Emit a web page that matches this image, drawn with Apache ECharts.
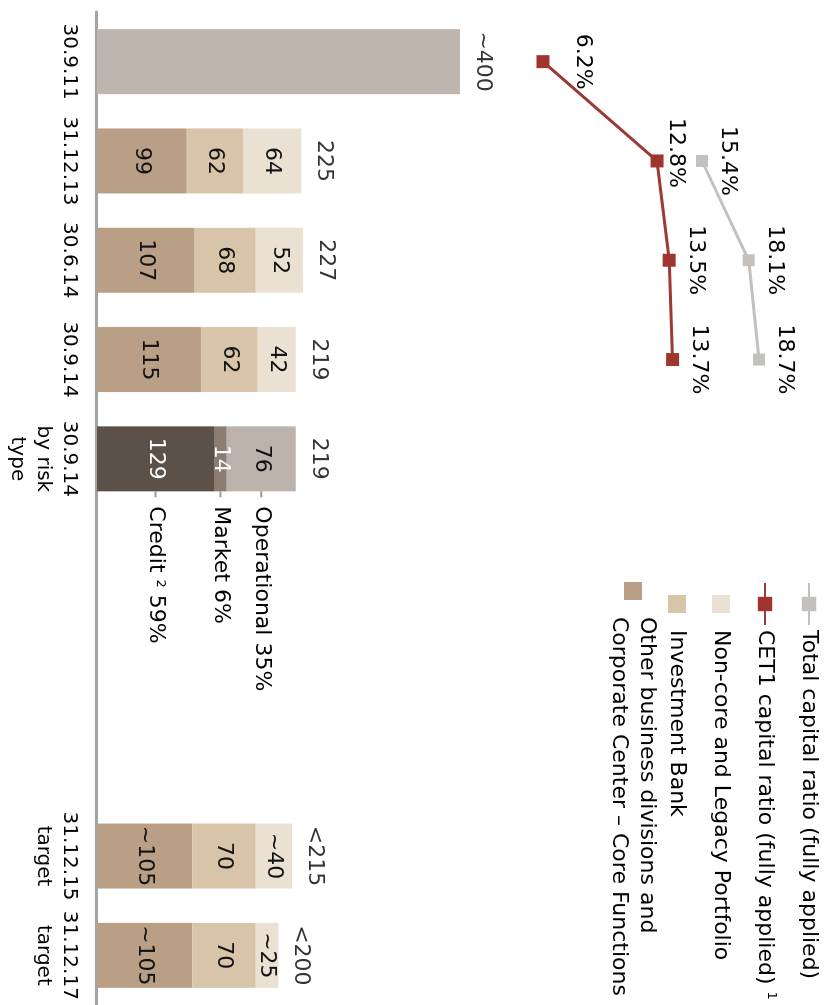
<!DOCTYPE html>
<html>
<head>
<meta charset="utf-8">
<script src="https://cdn.jsdelivr.net/npm/echarts@6/dist/echarts.min.js"></script>
<style>
  html, body { margin: 0; padding: 0; background: #fff; width: 833px; height: 1005px; overflow: hidden; }
  /* the chart is laid out landscape and turned a quarter clockwise onto the page */
  #chart {
    position: absolute; left: 0; top: 0;
    width: 1005px; height: 833px;
    transform-origin: 0 0;
    transform: translate(833px, 0) rotate(90deg);
  }
</style>
</head>
<body>
<div id="chart"></div>
<script>
// Risk-weighted assets (CHF bn) and capital ratios (%)
const categories = ['30.9.11', '31.12.13', '30.6.14', '30.9.14', '30.9.14\nby risk\ntype', '', '', '', '31.12.15\ntarget', '31.12.17\ntarget'];

const groupRwa        = [400, null, null, null, null, null, null, null, null, null];
const coreFunctions   = [null, 99, 107, 115, null, null, null, null, 105, 105];
const coreLabels      = ['', '99', '107', '115', '', '', '', '', '~105', '~105'];
const investmentBank  = [null, 62, 68, 62, null, null, null, null, 70, 70];
const ibLabels        = ['', '62', '68', '62', '', '', '', '', '70', '70'];
const nonCoreLegacy   = [null, 64, 52, 42, null, null, null, null, 40, 25];
const nonCoreLabels   = ['', '64', '52', '42', '', '', '', '', '~40', '~25'];

const creditRisk      = [null, null, null, null, 129, null, null, null, null, null];
const marketRisk      = [null, null, null, null, 14, null, null, null, null, null];
const operationalRisk = [null, null, null, null, 76, null, null, null, null, null];
const riskNames  = ['Credit', 'Market', 'Operational'];
const riskShares = ['59%', '6%', '35%'];

const totals      = [400, 225, 227, 219, 219, null, null, null, 215, 200];
const totalLabels = ['~400', '225', '227', '219', '219', '', '', '', '<215', '<200'];

const cet1Ratio         = [6.2, 12.8, 13.5, 13.7, null, null, null, null, null, null];
const totalCapitalRatio = [null, 15.4, 18.1, 18.7, null, null, null, null, null, null];

const FONT = 'DejaVu Sans';
const NAME_TOTAL = 'Total capital ratio (fully applied)';
const NAME_CET1 = 'CET1 capital ratio (fully applied)';
const NAME_NONCORE = 'Non-core and Legacy Portfolio';
const NAME_IB = 'Investment Bank';
const NAME_CORE = 'Other business divisions and Corporate Center – Core Functions';

const chart = echarts.init(document.getElementById('chart'), null, { renderer: 'canvas' });

function stackedBar(name, data, color, labels, labelColor) {
  return {
    name, type: 'bar', stack: 'rwa', data,
    barWidth: 65, barGap: '-100%',
    itemStyle: { color },
    label: {
      show: !!labels, position: 'inside',
      fontFamily: FONT, fontSize: 22, color: labelColor || '#111',
      formatter: p => labels ? labels[p.dataIndex] : ''
    }
  };
}

// risk-type call-outs to the side of the last reported bar
const riskData = [creditRisk, marketRisk, operationalRisk];
const riskNotes = riskData.map((d, i) => ({
  name: 'note-' + riskNames[i], type: 'bar', stack: 'note', data: d,
  barWidth: 65, barGap: '-100%', silent: true,
  itemStyle: { color: 'rgba(0,0,0,0)' },
  label: {
    show: true, position: 'right', distance: 0,
    fontFamily: FONT, fontSize: 22, color: '#000',
    formatter: () => '{k| }{g| }' + riskNames[i] + (i === 0 ? ' {sup|2}' : '') + ' ' + riskShares[i],
    rich: {
      k: { width: 6, height: 2, backgroundColor: '#9a9a9a', verticalAlign: 'middle' },
      g: { width: 9 },
      sup: { fontFamily: FONT, fontSize: 13, lineHeight: 13, verticalAlign: 'top', color: '#000' }
    }
  }
}));

// a few ratio labels sit apart from the others
const cet1LabelTweaks = { 0: { distance: 22 }, 1: { distance: 1, offset: [-8, 0] } };
const cet1Data = cet1Ratio.map((v, i) => cet1LabelTweaks[i] ? { value: v, label: cet1LabelTweaks[i] } : v);

const legendText = {
  fontFamily: FONT, fontSize: 22, lineHeight: 26, color: '#000',
  rich: { sup: { fontFamily: FONT, fontSize: 13, lineHeight: 13, verticalAlign: 'top', color: '#000' } }
};
const squareIcon = 'path://M0 0H10V10H0Z';

const option = {
  animation: false,
  backgroundColor: '#fff',
  grid: { left: 12, width: 997, top: 10, bottom: 97 },
  legend: [
    {
      orient: 'vertical', left: 582, top: 11, padding: 0,
      itemWidth: 42, itemHeight: 18, itemGap: 18,
      textStyle: legendText,
      selectedMode: false,
      data: [
        { name: NAME_TOTAL },
        { name: NAME_CET1 },
        { name: NAME_NONCORE, icon: squareIcon },
        { name: NAME_IB, icon: squareIcon }
      ],
      formatter: n => n === NAME_CET1 ? n + ' {sup|1}' : n
    },
    {
      orient: 'vertical', left: 582, top: 172, padding: 0,
      itemWidth: 42, itemHeight: 18,
      textStyle: Object.assign({}, legendText, { lineHeight: 28 }),
      selectedMode: false,
      data: [{ name: NAME_CORE, icon: squareIcon }],
      formatter: () => 'Other business divisions and\nCorporate Center – Core Functions'
    }
  ],
  xAxis: {
    type: 'category', data: categories,
    axisLine: { show: true, lineStyle: { color: '#a3a3a3', width: 3 } },
    axisTick: { show: false },
    axisLabel: {
      interval: 0, margin: 15,
      fontFamily: FONT, fontSize: 20, lineHeight: 26, color: '#000'
    }
  },
  yAxis: [
    { type: 'value', min: 0, max: 800, show: false, splitLine: { show: false } },
    { type: 'value', min: -19.6, max: 22.4, show: false, splitLine: { show: false } }
  ],
  series: [
    stackedBar('RWA group', groupRwa, '#bdb5ae', null),
    stackedBar(NAME_CORE, coreFunctions, '#b99f85', coreLabels),
    stackedBar(NAME_IB, investmentBank, '#d7c4a9', ibLabels),
    stackedBar(NAME_NONCORE, nonCoreLegacy, '#ebe1d2', nonCoreLabels),
    stackedBar('Credit', creditRisk, '#5b5148', ['', '', '', '', '129'], '#fff'),
    stackedBar('Market', marketRisk, '#8b7d71', ['', '', '', '', '14'], '#fff'),
    stackedBar('Operational', operationalRisk, '#bbb3ab', ['', '', '', '', '76'], '#111'),
    ...riskNotes,
    {
      name: 'total', type: 'scatter', data: totals, silent: true,
      symbolSize: 1, itemStyle: { color: 'rgba(0,0,0,0)' },
      label: {
        show: true, position: 'top', distance: 11,
        fontFamily: FONT, fontSize: 22, color: '#000',
        formatter: p => totalLabels[p.dataIndex]
      }
    },
    {
      name: NAME_TOTAL, type: 'line', yAxisIndex: 1, data: totalCapitalRatio,
      symbol: 'rect', symbolSize: 12, z: 5,
      lineStyle: { color: '#c4c0bd', width: 3 },
      itemStyle: { color: '#c4c0bd' },
      label: {
        show: true, position: 'top', distance: 9,
        fontFamily: FONT, fontSize: 22, color: '#000',
        formatter: p => p.value.toFixed(1) + '%'
      }
    },
    {
      name: NAME_CET1, type: 'line', yAxisIndex: 1, data: cet1Data,
      symbol: 'rect', symbolSize: 13, z: 6,
      lineStyle: { color: '#9c3a36', width: 3 },
      itemStyle: { color: '#a0342f' },
      label: {
        show: true, position: 'top', distance: 9,
        fontFamily: FONT, fontSize: 22, color: '#000',
        formatter: p => p.value.toFixed(1) + '%'
      }
    }
  ]
};

chart.setOption(option);
</script>
</body>
</html>
